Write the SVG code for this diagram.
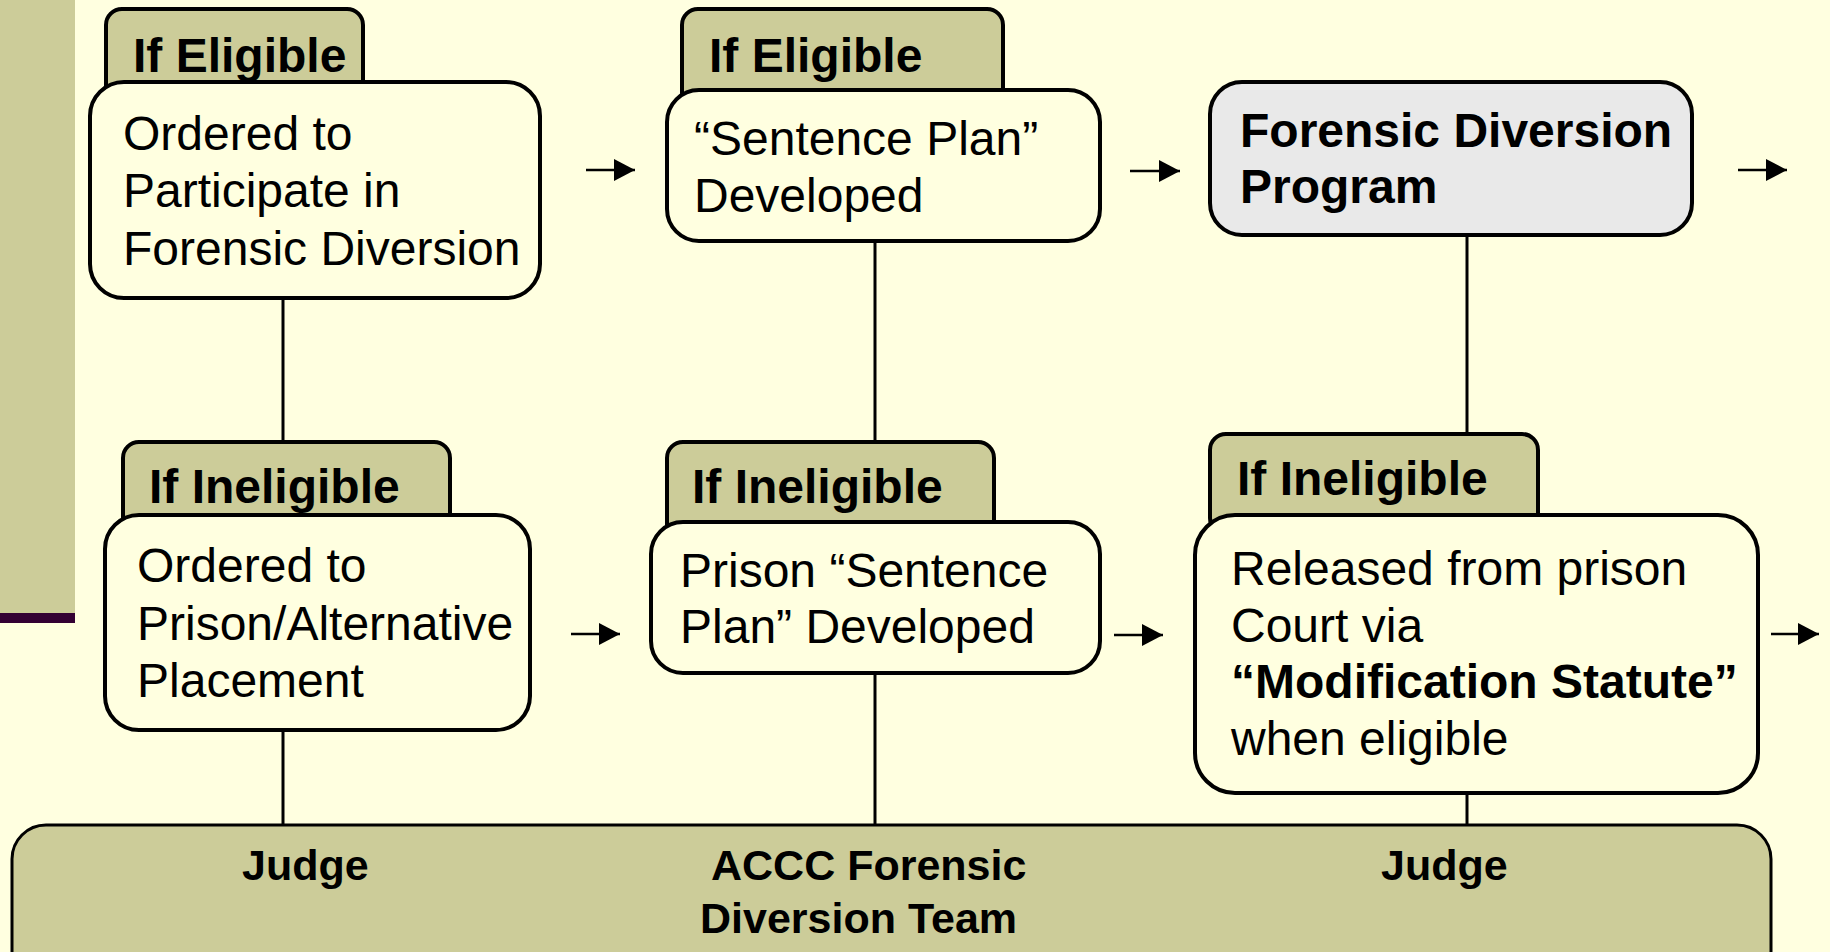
<svg xmlns="http://www.w3.org/2000/svg" width="1830" height="952" viewBox="0 0 1830 952">
<defs>
<style>
.bg{fill:#FFFFE0}
.tab{fill:#CCCC99;stroke:#000;stroke-width:4}
.box{fill:#FFFFE0;stroke:#000;stroke-width:4}
.grey{fill:#E9E9E9;stroke:#000;stroke-width:4}
.panel{fill:#CCCC99;stroke:#000;stroke-width:3}
.t{font-family:"Liberation Sans",Arial,sans-serif;font-size:48px;fill:#000}
.b{font-weight:bold}
.bt{font-family:"Liberation Sans",Arial,sans-serif;font-size:43px;font-weight:bold;fill:#000}
.ln{stroke:#000;stroke-width:3;fill:none}
.ar{stroke:#000;stroke-width:2.5;fill:none}
</style>
<marker id="ah" markerUnits="userSpaceOnUse" markerWidth="22" markerHeight="22" viewBox="0 0 22 22" refX="21" refY="11" orient="auto">
<path d="M0,0 L21,11 L0,22 Z" fill="#000"/>
</marker>
</defs>
<rect class="bg" x="0" y="0" width="1830" height="952"/>
<g id="sidebar">
<rect x="0" y="0" width="75" height="613" fill="#CCCC99"/>
<rect x="0" y="613" width="75" height="10" fill="#330033"/>
</g>
<g id="connectors">
<line class="ln" x1="283" y1="298" x2="283" y2="444"/>
<line class="ln" x1="283" y1="730" x2="283" y2="826"/>
<line class="ln" x1="875" y1="241" x2="875" y2="444"/>
<line class="ln" x1="875" y1="673" x2="875" y2="826"/>
<line class="ln" x1="1467" y1="235" x2="1467" y2="435"/>
<line class="ln" x1="1467" y1="793" x2="1467" y2="826"/>
<line class="ar" x1="586" y1="170" x2="635" y2="170" marker-end="url(#ah)"/>
<line class="ar" x1="1130" y1="171" x2="1180" y2="171" marker-end="url(#ah)"/>
<line class="ar" x1="1738" y1="170" x2="1787" y2="170" marker-end="url(#ah)"/>
<line class="ar" x1="571" y1="634" x2="620" y2="634" marker-end="url(#ah)"/>
<line class="ar" x1="1114" y1="635" x2="1163" y2="635" marker-end="url(#ah)"/>
<line class="ar" x1="1771" y1="634" x2="1819" y2="634" marker-end="url(#ah)"/>
</g>
<g id="panel">
<rect class="panel" x="12" y="825" width="1759" height="160" rx="34" ry="34"/>
<text class="bt" x="242" y="880">Judge</text>
<text class="bt" x="711" y="880">ACCC Forensic</text>
<text class="bt" x="700" y="933">Diversion Team</text>
<text class="bt" x="1381" y="880">Judge</text>
</g>
<g id="node1">
<rect class="tab" x="106" y="9" width="257" height="100" rx="16" ry="16"/>
<text class="t b" x="133" y="72">If Eligible</text>
<rect class="box" x="90" y="82" width="450" height="216" rx="34" ry="34"/>
<text class="t" x="123" y="150">Ordered to</text>
<text class="t" x="123" y="207">Participate in</text>
<text class="t" x="123" y="265">Forensic Diversion</text>
</g>
<g id="node2">
<rect class="tab" x="682" y="9" width="321" height="100" rx="16" ry="16"/>
<text class="t b" x="709" y="72">If Eligible</text>
<rect class="box" x="667" y="90" width="433" height="151" rx="32" ry="32"/>
<text class="t" x="694" y="155">“Sentence Plan”</text>
<text class="t" x="694" y="212">Developed</text>
</g>
<g id="node3">
<rect class="grey" x="1210" y="82" width="482" height="153" rx="32" ry="32"/>
<text class="t b" x="1240" y="147">Forensic Diversion</text>
<text class="t b" x="1240" y="203">Program</text>
</g>
<g id="node4">
<rect class="tab" x="123" y="442" width="327" height="100" rx="16" ry="16"/>
<text class="t b" x="149" y="503">If Ineligible</text>
<rect class="box" x="105" y="515" width="425" height="215" rx="34" ry="34"/>
<text class="t" x="137" y="582">Ordered to</text>
<text class="t" x="137" y="640">Prison/Alternative</text>
<text class="t" x="137" y="697">Placement</text>
</g>
<g id="node5">
<rect class="tab" x="667" y="442" width="327" height="100" rx="16" ry="16"/>
<text class="t b" x="692" y="503">If Ineligible</text>
<rect class="box" x="651" y="522" width="449" height="151" rx="32" ry="32"/>
<text class="t" x="680" y="587">Prison “Sentence</text>
<text class="t" x="680" y="643">Plan” Developed</text>
</g>
<g id="node6">
<rect class="tab" x="1210" y="434" width="328" height="100" rx="16" ry="16"/>
<text class="t b" x="1237" y="495">If Ineligible</text>
<rect class="box" x="1195" y="515" width="563" height="278" rx="40" ry="40"/>
<text class="t" x="1231" y="585">Released from prison</text>
<text class="t" x="1231" y="642">Court via</text>
<text class="t b" x="1231" y="698">“Modification Statute”</text>
<text class="t" x="1231" y="755">when eligible</text>
</g>
</svg>
